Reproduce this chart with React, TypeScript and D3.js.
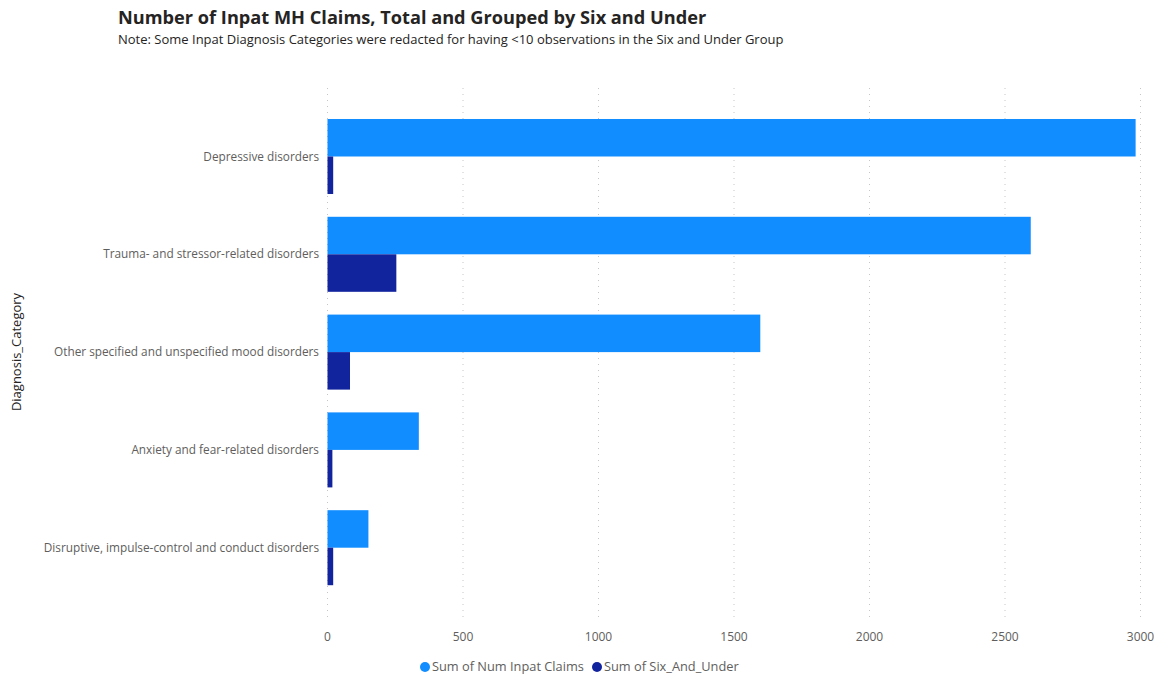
import React from "react";
import * as d3 from "d3";

const categories = [
  "Depressive disorders",
  "Trauma- and stressor-related disorders",
  "Other specified and unspecified mood disorders",
  "Anxiety and fear-related disorders",
  "Disruptive, impulse-control and conduct disorders",
];
const totalClaims = [2982, 2595, 1597, 337, 151];
const sixAndUnder = [21, 254, 83, 18, 21];
const seriesNames = ["Sum of Num Inpat Claims", "Sum of Six_And_Under"];
const xTicks = [0, 500, 1000, 1500, 2000, 2500, 3000];

const W = 1158;
const H = 677;
const FONT = "'Open Sans', 'Segoe UI', sans-serif";
const LIGHT = "#118DFF";
const DARK = "#12239E";
const GRAY = "#605E5C";

export default function App() {
  const x = d3.scaleLinear().domain([0, 3000]).range([327.5, 1140.5]);
  const y = d3
    .scaleBand<string>()
    .domain(categories)
    .range([107.6, 596.6])
    .paddingInner(0.233)
    .paddingOuter(0.1165);
  const inner = d3
    .scaleBand<number>()
    .domain([0, 1])
    .range([0, y.bandwidth()]);

  const series = [totalClaims, sixAndUnder];
  const colors = [LIGHT, DARK];

  return (
    <svg
      width={W}
      height={H}
      style={{ position: "absolute", left: 0, top: 0, background: "#fff" }}
      fontFamily={FONT}
    >
      <text x={118} y={24} fontSize={18.2} fontWeight={700} fill="#252423">
        Number of Inpat MH Claims, Total and Grouped by Six and Under
      </text>
      <text x={118} y={44} fontSize={13} fill="#252423">
        Note: Some Inpat Diagnosis Categories were redacted for having &lt;10 observations in the Six and Under Group
      </text>

      {xTicks.map((t) => (
        <g key={t}>
          <line
            x1={x(t)}
            x2={x(t)}
            y1={88}
            y2={620}
            stroke="#C8C6C4"
            strokeWidth={1}
            strokeDasharray="1,5"
          />
          <text
            x={x(t)}
            y={641}
            textAnchor="middle"
            fontSize={12}
            fill={GRAY}
          >
            {t}
          </text>
        </g>
      ))}

      {categories.map((c, i) => (
        <g key={c}>
          {series.map((s, k) => (
            <rect
              key={k}
              x={x(0)}
              y={(y(c) as number) + (inner(k) as number)}
              width={x(s[i]) - x(0)}
              height={inner.bandwidth()}
              fill={colors[k]}
            />
          ))}
          <text
            x={319}
            y={(y(c) as number) + y.bandwidth() / 2}
            dy="0.35em"
            textAnchor="end"
            fontSize={11.8}
            fill={GRAY}
          >
            {c}
          </text>
        </g>
      ))}

      <text
        transform={`translate(21,352) rotate(-90)`}
        textAnchor="middle"
        fontSize={13}
        fill="#252423"
      >
        Diagnosis_Category
      </text>

      {seriesNames.map((n, k) => {
        const lx = k === 0 ? 425 : 597;
        return (
          <g key={n}>
            <circle cx={lx} cy={667} r={5} fill={colors[k]} />
            <text x={lx + 7} y={667} dy="0.35em" fontSize={12.8} fill={GRAY}>
              {n}
            </text>
          </g>
        );
      })}
    </svg>
  );
}
